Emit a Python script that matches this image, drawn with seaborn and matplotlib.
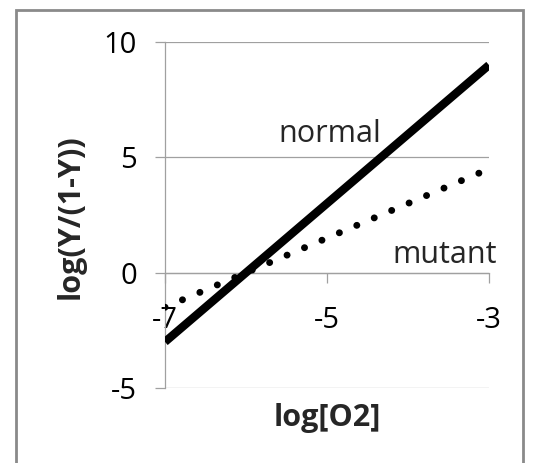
import matplotlib
matplotlib.use("Agg")
import matplotlib.pyplot as plt
import matplotlib.patches as mpatches
import seaborn as sns
import pandas as pd

# Data
x_vals = [-7, -3]
normal_vals = [-3, 9]
mutant_vals = [-1.5, 4.5]
x_ticks = [-7, -5, -3]
y_ticks = [-5, 0, 5, 10]
x_label = "log[O2]"
y_label = "log(Y/(1-Y))"

sns.set_style("white")
plt.rcParams['font.family'] = ['Open Sans', 'DejaVu Sans']

W, H = 538, 463
fig = plt.figure(figsize=(W / 100, H / 100), dpi=100)
ax = fig.add_axes([165 / W, 1 - 388 / H, (489 - 165) / W, (388 - 42) / H])

df_n = pd.DataFrame({"x": x_vals, "y": normal_vals})
df_m = pd.DataFrame({"x": x_vals, "y": mutant_vals})

grid_c = "#a0a0a0"
sns.lineplot(data=df_n, x="x", y="y", ax=ax, color="black", linewidth=6.0,
             solid_capstyle="butt", zorder=4)
sns.lineplot(data=df_m, x="x", y="y", ax=ax, color="black", linewidth=5.0,
             linestyle=(0, (0.01, 2.72)), dash_capstyle="round", zorder=4)

ax.set_xlim(-7, -3)
ax.set_ylim(-5, 10)
ax.set_xticks(x_ticks)
ax.set_yticks(y_ticks)
ax.set_xticklabels([str(v) for v in x_ticks])
ax.set_yticklabels([str(v) for v in y_ticks])
ax.set_xlabel("")
ax.set_ylabel("")

for yv in y_ticks:
    ax.axhline(yv, color=grid_c, linewidth=0.9, zorder=1)

ax.spines['top'].set_visible(False)
ax.spines['right'].set_visible(False)
ax.spines['left'].set_color(grid_c)
ax.spines['left'].set_linewidth(0.9)
ax.spines['bottom'].set_color(grid_c)
ax.spines['bottom'].set_linewidth(0.9)
ax.spines['bottom'].set_position(('data', 0))

ax.tick_params(axis='x', direction='out', length=7.2, width=0.9, color=grid_c,
               pad=17, labelsize=21, labelcolor='black')
ax.tick_params(axis='y', direction='out', length=7.2, width=0.9, color=grid_c,
               pad=13, labelsize=21, labelcolor='black')
ax.tick_params(bottom=True, left=True)

ax.text(-4.96, 5.65, "normal", ha='center', va='baseline', fontsize=22, zorder=5)
ax.text(-3.55, 0.43, "mutant", ha='center', va='baseline', fontsize=22, zorder=5)

fig.text(327 / W, 1 - 418 / H, x_label, ha='center', va='center',
         fontsize=22, fontweight='bold')
fig.text(71 / W, 1 - 217 / H, y_label, ha='center', va='center',
         fontsize=22, fontweight='bold', rotation=90)

border = mpatches.Rectangle((16 / W, -0.05), (523 - 16) / W, 1.05 - 10 / H,
                            transform=fig.transFigure, fill=False,
                            edgecolor="#8a8a8a", linewidth=2, clip_on=False)
fig.patches.append(border)

fig.savefig("out.png", dpi=100)
